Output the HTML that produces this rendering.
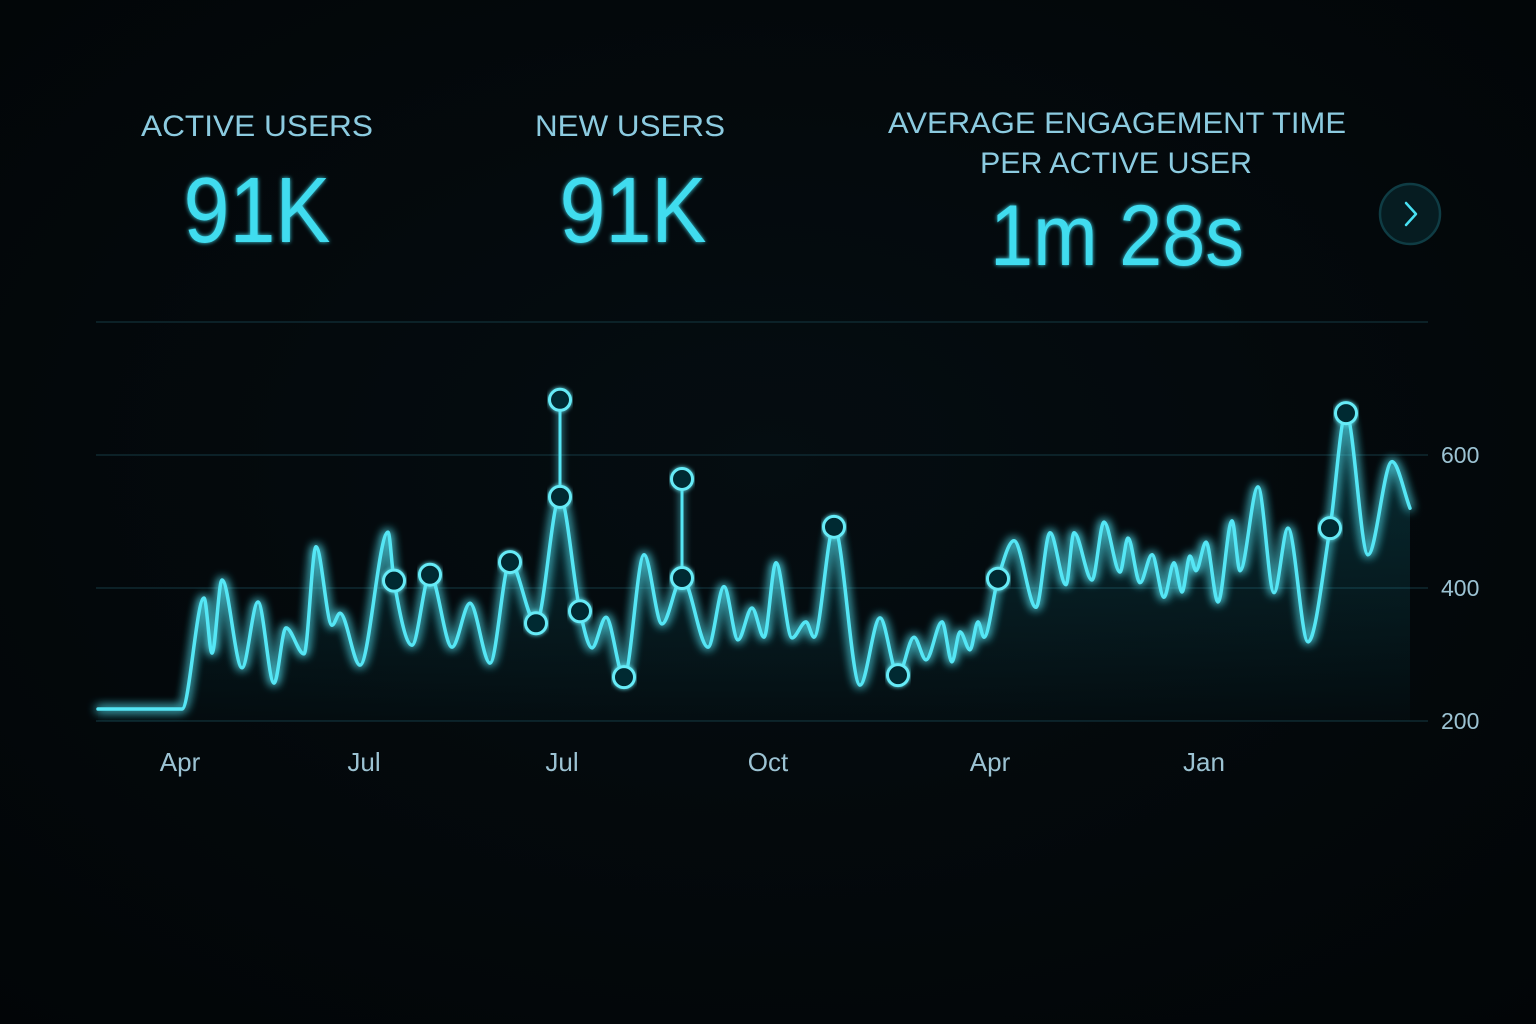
<!DOCTYPE html>
<html><head><meta charset="utf-8"><style>
html,body{margin:0;padding:0;background:#03080b;}
svg{display:block;}
text{font-family:"Liberation Sans",sans-serif;}
</style></head><body>
<svg id="chart" width="1536" height="1024" viewBox="0 0 1536 1024" xmlns="http://www.w3.org/2000/svg">
<defs>
<radialGradient id="bg" cx="50%" cy="45%" r="75%">
<stop offset="0" stop-color="#050d11"/><stop offset="1" stop-color="#020507"/>
</radialGradient>
<linearGradient id="area" x1="0" y1="0" x2="0" y2="1">
<stop offset="0" stop-color="#1ab7cc" stop-opacity="0.22"/><stop offset="1" stop-color="#1ab7cc" stop-opacity="0.02"/>
</linearGradient>
<filter id="glow" x="-10%" y="-30%" width="120%" height="160%">
<feGaussianBlur stdDeviation="5" result="b"/>
<feMerge><feMergeNode in="b"/><feMergeNode in="b"/><feMergeNode in="SourceGraphic"/></feMerge>
</filter>
<filter id="sglow" filterUnits="userSpaceOnUse" x="0" y="0" width="1536" height="1024">
<feGaussianBlur stdDeviation="4" result="b"/>
<feMerge><feMergeNode in="b"/><feMergeNode in="SourceGraphic"/></feMerge>
</filter>
<filter id="tglow" x="-10%" y="-30%" width="120%" height="160%">
<feGaussianBlur stdDeviation="2" result="b"/>
<feMerge><feMergeNode in="b"/><feMergeNode in="SourceGraphic"/></feMerge>
</filter>
</defs>
<rect width="1536" height="1024" fill="url(#bg)"/>

<g>
<text x="257" y="136" text-anchor="middle" font-size="30" fill="#8ccbe0" textLength="232" lengthAdjust="spacingAndGlyphs">ACTIVE USERS</text>
<text x="257" y="242" text-anchor="middle" font-size="93" fill="#3fdcef" filter="url(#tglow)" textLength="147" lengthAdjust="spacingAndGlyphs">91K</text>
</g>
<g>
<text x="630" y="136" text-anchor="middle" font-size="30" fill="#8ccbe0" textLength="190" lengthAdjust="spacingAndGlyphs">NEW USERS</text>
<text x="633" y="242" text-anchor="middle" font-size="93" fill="#3fdcef" filter="url(#tglow)" textLength="147" lengthAdjust="spacingAndGlyphs">91K</text>
</g>
<g>
<text x="1117" y="133" text-anchor="middle" font-size="30" fill="#8ccbe0" textLength="458" lengthAdjust="spacingAndGlyphs">AVERAGE ENGAGEMENT TIME</text>
<text x="1116" y="173" text-anchor="middle" font-size="30" fill="#8ccbe0" textLength="272" lengthAdjust="spacingAndGlyphs">PER ACTIVE USER</text>
<text x="1117" y="265" text-anchor="middle" font-size="86" fill="#3fdcef" filter="url(#tglow)" textLength="254" lengthAdjust="spacingAndGlyphs">1m 28s</text>
</g>
<g>
<circle cx="1410" cy="214" r="30" fill="#061c21" stroke="#0f3c44" stroke-width="2.5"/>
<path d="M1406 203 L1416 214 L1406 225" fill="none" stroke="#48e0f2" stroke-width="2.5" stroke-linecap="round" stroke-linejoin="round"/>
</g>
<g id="grid"></g>
<g id="ylabels"></g>
<g id="xlabels"></g>
<g id="series"></g>
</svg>
<script>
const days = [0,42,53,57,62,72,80,88,94,103,109,117,121,131,145,148,157,166,177,186,196,206,219,231,241,247,254,263,273,282,292,305,313,320,327,333,339,347,354,358,368,381,391,400,408,414,422,427,431,436,440,443,450,458,469,476,484,488,497,503,511,515,521,527,533,538,542,546,549,554,560,567,571,580,588,595,605,616,624,635,647,656];
const values = [218,218,385,302,412,280,379,257,340,301,462,344,362,284,484,411,314,420,311,377,287,439,347,537,365,310,356,266,450,346,415,311,402,322,370,326,438,325,349,326,492,254,355,269,326,292,349,289,334,307,349,326,414,471,371,483,405,483,412,499,424,475,408,450,386,438,394,448,426,469,379,501,426,552,393,490,319,490,663,450,590,520];
const markerDays = [148,166,206,219,231,241,263,292,368,400,450,616,624];
const markerValues = [411,420,439,347,537,365,266,415,492,269,414,490,663];
const spikeDays = [231,292];
const spikeBase = [537,415];
const spikeTop = [683,564];
const yTicks = [200,400,600,800];
const yTickLabels = ["200","400","600",""];
const xTickDays = [41,133,232,335,446,553];
const xTickLabels = ["Apr","Jul","Jul","Oct","Apr","Jan"];

const NS="http://www.w3.org/2000/svg";
const xS = d => 98 + d*2;
const yS = v => 721 - (v-200)*0.665;
function mk(tag, attrs, parent){const e=document.createElementNS(NS,tag);for(const k in attrs)e.setAttribute(k,attrs[k]);parent.appendChild(e);return e;}

const grid=document.getElementById('grid'), yl=document.getElementById('ylabels'), xl=document.getElementById('xlabels'), ser=document.getElementById('series');
yTicks.forEach((t,i)=>{
  const l=mk('line',{x1:96,x2:1428,y1:yS(t),y2:yS(t),stroke:'#123038','stroke-width':1.2},grid);
  
  
  if(yTickLabels[i]){
    const tx=mk('text',{x:1441,y:yS(t)+8,'font-size':23,fill:'#9cc3d3'},yl);
    tx.textContent=yTickLabels[i];
    
    
  }
});
xTickDays.forEach((d,i)=>{
  const tx=mk('text',{x:xS(d),y:771,'font-size':26,fill:'#9cc3d3','text-anchor':'middle'},xl);
  tx.textContent=xTickLabels[i];
  
  
});

const P=days.map((d,i)=>[xS(d),yS(values[i])]);
const n=P.length, dx=[], m=[], s=[];
for(let i=0;i<n-1;i++){dx[i]=P[i+1][0]-P[i][0];s[i]=(P[i+1][1]-P[i][1])/dx[i];}
m[0]=s[0];m[n-1]=s[n-2];
for(let i=1;i<n-1;i++){ m[i]=(s[i-1]*s[i]<=0)?0:(s[i-1]+s[i])/2; }
for(let i=0;i<n-1;i++){ if(s[i]===0){m[i]=0;m[i+1]=0;continue;} const a=m[i]/s[i],b=m[i+1]/s[i],h=a*a+b*b; if(h>9){const t=3/Math.sqrt(h);m[i]=t*a*s[i];m[i+1]=t*b*s[i];} }
let d='M'+P[0][0]+' '+P[0][1];
for(let i=0;i<n-1;i++){const h=dx[i]/3;d+=` C${P[i][0]+h} ${P[i][1]+m[i]*h} ${P[i+1][0]-h} ${P[i+1][1]-m[i+1]*h} ${P[i+1][0]} ${P[i+1][1]}`;}
const area=mk('path',{d:d+` L${P[n-1][0]} ${yS(200)} L${P[0][0]} ${yS(200)} Z`,fill:'url(#area)'},ser);


const line=mk('path',{d:d,fill:'none',stroke:'#55e6f5','stroke-width':3.5,'stroke-linejoin':'round','stroke-linecap':'round',filter:'url(#glow)'},ser);


spikeDays.forEach((sd,i)=>{
  const l=mk('line',{x1:xS(sd),x2:xS(sd),y1:yS(spikeBase[i]),y2:yS(spikeTop[i]),stroke:'#55e6f5','stroke-width':3,filter:'url(#sglow)'},ser);
  
  
  const c=mk('circle',{cx:xS(sd),cy:yS(spikeTop[i]),r:10.5,fill:'#062a30',stroke:'#66ebf7','stroke-width':3,filter:'url(#tglow)'},ser);
  
  
});
markerDays.forEach((md,i)=>{
  const c=mk('circle',{cx:xS(md),cy:yS(markerValues[i]),r:10.5,fill:'#062a30',stroke:'#66ebf7','stroke-width':3,filter:'url(#tglow)'},ser);
  
  
});
</script>
</body></html>
